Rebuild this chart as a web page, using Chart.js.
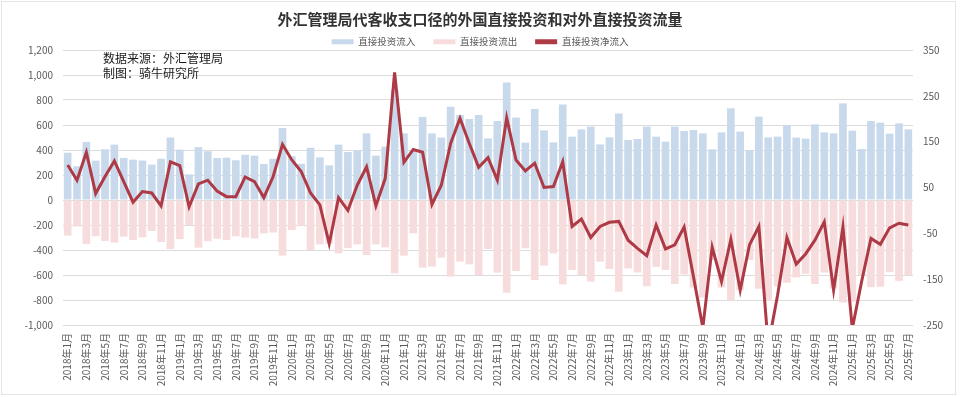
<!DOCTYPE html>
<html>
<head>
<meta charset="utf-8">
<script src="https://cdn.jsdelivr.net/npm/chart.js@4.4.1/dist/chart.umd.min.js"></script>
<style>
html, body { margin: 0; padding: 0; background: #fff; }
</style>
</head>
<body>
<canvas id="c" width="960" height="397"></canvas>
<script>
// 月份：2018年1月 ~ 2025年7月
const months = [];
for (let y = 2018; y <= 2025; y++) {
    for (let m = 1; m <= 12; m++) {
        if (y === 2025 && m > 7) break;
        months.push(y + "年" + m + "月");
    }
}

// 直接投资流入（左轴，亿美元）
const inflow = [
    378, 270, 465, 315, 405, 443, 337, 323, 316, 283, 330, 500, 403, 205, 423,
    390, 336, 339, 318, 362, 355, 288, 330, 576, 350, 290, 418, 341, 277, 443,
    384, 397, 533, 355, 427, 880, 533, 400, 665, 533, 500, 747, 680, 648, 680,
    493, 632, 941, 659, 459, 728, 557, 461, 765, 507, 565, 587, 445, 501, 693,
    480, 488, 587, 507, 467, 587, 552, 560, 533, 405, 541, 733, 547, 397, 667,
    501, 507, 600, 499, 491, 605, 541, 533, 773, 555, 408, 632, 619, 531, 613, 565
];

// 直接投资流出（左轴）
const outflow = [
    -285, -212, -352, -290, -328, -341, -293, -320, -299, -248, -336, -393, -313, -200, -381,
    -330, -310, -320, -290, -301, -308, -267, -260, -445, -240, -210, -400, -355, -350, -427,
    -385, -355, -440, -355, -379, -587, -445, -267, -541, -533, -461, -613, -493, -515, -600,
    -392, -581, -741, -568, -387, -640, -525, -427, -675, -560, -600, -653, -493, -552, -733,
    -548, -580, -690, -535, -560, -672, -595, -700, -780, -480, -700, -805, -720, -480, -710,
    -805, -692, -662, -620, -590, -672, -580, -707, -820, -813, -600, -697, -693, -578, -647, -602
];

// 直接投资净流入（右轴）
const netFlow = [
    99, 66, 127, 37, 74, 108, 63, 18, 41, 38, 10, 106, 98, 8, 58,
    66, 42, 30, 30, 73, 63, 28, 74, 144, 110, 85, 38, 12, -73, 28,
    0, 55, 95, 10, 70, 301, 105, 133, 127, 13, 55, 146, 201, 146, 94,
    115, 66, 202, 110, 86, 103, 50, 52, 106, -35, -19, -59, -35, -26, -24,
    -65, -83, -99, -32, -84, -75, -36, -145, -256, -80, -155, -63, -174, -75, -35,
    -295, -185, -59, -117, -95, -65, -25, -174, -36, -258, -155, -61, -74, -38, -28, -32
];

const titleText = "外汇管理局代客收支口径的外国直接投资和对外直接投资流量";
const noteLines = ["数据来源：外汇管理局", "制图：骑牛研究所"];

const FONT = '"Noto Sans CJK SC", "Noto Sans", sans-serif';
Chart.defaults.font.family = FONT;

// 图上的注释文字和外框
const notePlugin = {
    id: "note",
    afterDatasetsDraw(chart) {
        const ctx = chart.ctx;
        ctx.save();
        ctx.font = "12px " + FONT;
        ctx.fillStyle = "#1a1a1a";
        ctx.textBaseline = "middle";
        ctx.fillText(noteLines[0], 103, 58);
        ctx.fillText(noteLines[1], 103, 73);
        ctx.restore();
    },
    afterDraw(chart) {
        const ctx = chart.ctx;
        ctx.save();
        ctx.strokeStyle = "#e4e4e4";
        ctx.lineWidth = 1;
        ctx.strokeRect(1.5, 1.5, 954, 393);
        ctx.restore();
    }
};

// 固定图例高度，让绘图区从 y=50 开始
const legendHeight = {
    id: "legendHeight",
    beforeInit(chart) {
        const fit = chart.legend.fit;
        chart.legend.fit = function () {
            fit.bind(chart.legend)();
            this.height = 31;
        };
    }
};

const ctx = document.getElementById("c").getContext("2d");

new Chart(ctx, {
    data: {
        labels: months,
        datasets: [
            {
                type: "bar",
                label: "直接投资流入",
                data: inflow,
                backgroundColor: "#c8d9ec",
                yAxisID: "y",
                stack: "s",
                order: 1,
                barPercentage: 0.82,
                categoryPercentage: 1
            },
            {
                type: "bar",
                label: "直接投资流出",
                data: outflow,
                backgroundColor: "#f6dcdc",
                yAxisID: "y",
                stack: "s",
                order: 1,
                barPercentage: 0.82,
                categoryPercentage: 1
            },
            {
                type: "line",
                label: "直接投资净流入",
                data: netFlow,
                borderColor: "#ad3a45",
                backgroundColor: "#ad3a45",
                borderWidth: 3,
                pointRadius: 0,
                tension: 0,
                yAxisID: "y1",
                order: 0
            }
        ]
    },
    options: {
        responsive: false,
        animation: false,
        layout: { padding: 0 },
        plugins: {
            title: {
                display: true,
                text: titleText,
                color: "#333",
                font: { size: 15, weight: "bold" },
                padding: { top: 10, bottom: -9 }
            },
            legend: {
                display: true,
                labels: {
                    boxWidth: 22,
                    boxHeight: 5,
                    padding: 18,
                    color: "#595959",
                    font: { size: 9.5 },
                    sort: (a, b) => a.datasetIndex - b.datasetIndex,
                    generateLabels(chart) {
                        const items = Chart.defaults.plugins.legend.labels.generateLabels(chart);
                        items.forEach(it => { it.lineWidth = 0; });
                        return items;
                    }
                }
            },
            tooltip: { enabled: false }
        },
        scales: {
            x: {
                stacked: true,
                grid: { display: false, drawTicks: false },
                border: { display: false },
                ticks: {
                    autoSkip: false,
                    maxRotation: 90,
                    minRotation: 90,
                    padding: 8,
                    color: "#595959",
                    font: { size: 10 },
                    callback(v, i) {
                        return i % 2 === 0 ? this.getLabelForValue(v) : "";
                    }
                },
                afterFit(s) { s.height = 72; }
            },
            y: {
                stacked: true,
                position: "left",
                min: -1000,
                max: 1200,
                ticks: { stepSize: 200, padding: 10, color: "#595959", font: { size: 10 } },
                grid: { color: "#dcdcdc", drawTicks: false },
                border: { display: false },
                afterFit(s) { s.width = 63; }
            },
            y1: {
                position: "right",
                min: -250,
                max: 350,
                ticks: { stepSize: 100, padding: 10, color: "#595959", font: { size: 10 } },
                grid: { display: false, drawTicks: false },
                border: { display: false },
                afterFit(s) { s.width = 47; }
            }
        }
    },
    plugins: [notePlugin, legendHeight]
});
</script>
</body>
</html>
